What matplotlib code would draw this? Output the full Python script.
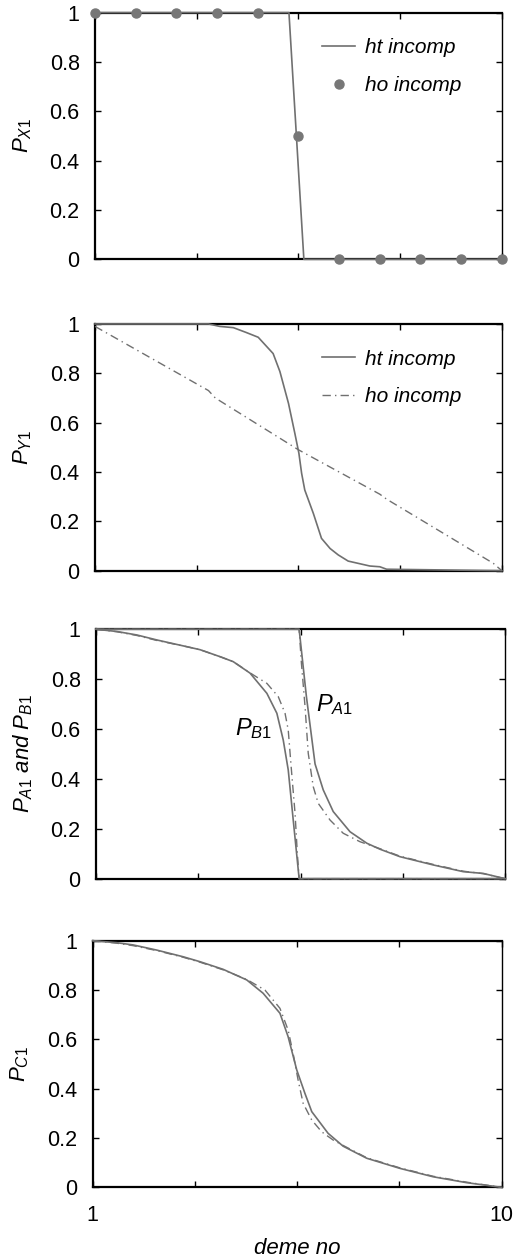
import matplotlib
matplotlib.use("Agg")
from matplotlib import pyplot as plt

plt.rcParams['font.family'] = ['Liberation Sans', 'DejaVu Sans']
plt.rcParams['mathtext.fontset'] = 'custom'
plt.rcParams['mathtext.it'] = 'Liberation Sans:italic'
plt.rcParams['mathtext.rm'] = 'Liberation Sans'

# panel 1: P_X1
x_dots = [1, 1.9, 2.8, 3.7, 4.6, 5.5, 6.4, 7.3, 8.2, 9.1, 10]
px1_ho = [1, 1, 1, 1, 1, 0.5, 0, 0, 0, 0, 0]
px1_ht_x = [1, 5.29, 5.62, 10]
px1_ht = [1, 1, 0, 0]

# panel 2: P_Y1
py1_ht_x = [1, 3.51, 3.76, 4.06, 4.35, 4.61, 4.94, 5.09, 5.28, 5.42, 5.51, 5.57,
            5.64, 5.83, 6.01, 6.20, 6.38, 6.60, 7.08, 7.30, 7.45, 10]
py1_ht = [1, 1, 0.99, 0.985, 0.965, 0.946, 0.88, 0.807, 0.678, 0.557, 0.476, 0.395,
          0.327, 0.232, 0.131, 0.09, 0.064, 0.039, 0.019, 0.016, 0.006, 0.0]
py1_ho_x = [1, 3.51, 3.66, 5.5, 7.30, 7.45, 9.81, 10]
py1_ho = [0.99, 0.73, 0.70, 0.49, 0.31, 0.29, 0.03, 0.0]

# panel 3: P_A1 and P_B1
pa_ht_x = [1, 5.47, 5.63, 5.82, 6.00, 6.22, 6.59, 6.96, 7.25, 7.69, 8.42, 9.08, 9.52, 10]
pa_ht = [1, 1, 0.73, 0.46, 0.356, 0.269, 0.188, 0.142, 0.118, 0.088, 0.055, 0.028, 0.021, 0]
pb_ht_x = [1, 1.46, 1.90, 2.34, 3.00, 3.29, 3.73, 4.02, 4.39, 4.76, 4.98, 5.12, 5.23,
           5.34, 5.47, 10]
pb_ht = [1, 0.991, 0.977, 0.957, 0.930, 0.918, 0.890, 0.870, 0.824, 0.743, 0.663, 0.556,
         0.436, 0.235, 0, 0]
pa_ho_x = [1, 5.47, 5.52, 5.60, 5.67, 5.78, 5.89, 6.15, 6.44, 6.81, 7.25, 7.69, 8.42,
           9.08, 9.52, 10]
pa_ho = [1, 1, 0.864, 0.690, 0.503, 0.369, 0.302, 0.235, 0.182, 0.148, 0.120, 0.090,
         0.057, 0.030, 0.020, 0]
pb_ho_x = [1, 1.46, 1.90, 2.34, 3.00, 3.29, 3.73, 4.02, 4.46, 4.76, 5.01, 5.16, 5.23,
           5.30, 5.38, 5.43, 5.47, 10]
pb_ho = [1, 0.99, 0.975, 0.955, 0.93, 0.918, 0.89, 0.87, 0.817, 0.783, 0.730, 0.663,
         0.596, 0.436, 0.262, 0.102, 0, 0]

# panel 4: P_C1
pc_ht_x = [1, 1.53, 1.89, 2.41, 2.99, 3.36, 3.87, 4.39, 4.75, 5.12, 5.30, 5.49, 5.67,
           5.82, 6.18, 6.51, 7.03, 7.76, 8.49, 9.23, 10]
pc_ht = [1, 0.992, 0.983, 0.962, 0.935, 0.915, 0.884, 0.841, 0.787, 0.706, 0.611, 0.476,
         0.381, 0.307, 0.219, 0.167, 0.118, 0.077, 0.043, 0.019, 0]
pc_ho_x = [1, 1.53, 1.89, 2.41, 2.99, 3.36, 3.87, 4.39, 4.79, 5.12, 5.30, 5.41, 5.52,
           5.63, 5.82, 6.04, 6.29, 6.51, 7.03, 7.76, 8.49, 9.23, 10]
pc_ho = [1, 0.99, 0.98, 0.96, 0.933, 0.913, 0.882, 0.843, 0.800, 0.726, 0.638, 0.543,
         0.435, 0.341, 0.273, 0.225, 0.192, 0.170, 0.120, 0.079, 0.045, 0.021, 0]

x_ticks = [1, 3.25, 5.5, 7.75, 10]
y_ticks = [0, 0.2, 0.4, 0.6, 0.8, 1]
y_ticklabels = ['0', '0.2', '0.4', '0.6', '0.8', '1']

GRAY = '#707070'
DASHDOT = (0, (6, 3, 1, 3))

fig = plt.figure(figsize=(5.15, 12.59), dpi=100)
rects = [
    [0.1845, 0.794, 0.790, 0.196],
    [0.1845, 0.5467, 0.790, 0.196],
    [0.1864, 0.3021, 0.7942, 0.1981],
    [0.180, 0.0569, 0.7942, 0.1959],
]
axes = [fig.add_axes(r) for r in rects]


def style(ax, ylabel, last=False):
    ax.set_xlim(1, 10)
    ax.set_ylim(0, 1)
    ax.set_xticks(x_ticks)
    ax.set_yticks(y_ticks)
    ax.set_yticklabels(y_ticklabels)
    if last:
        ax.set_xticklabels(['1', '', '', '', '10'])
    else:
        ax.set_xticklabels([])
    ax.tick_params(direction='in', top=True, right=True, length=4, width=1,
                   labelsize=15.5, pad=11)
    ax.tick_params(axis='x', pad=13)
    for side in ['left', 'bottom', 'top']:
        ax.spines[side].set_linewidth(1.6)
    ax.spines['right'].set_linewidth(1.0)
    ax.set_ylabel(ylabel, fontsize=16, style='italic')
    ax.yaxis.set_label_coords(-0.15, 0.5)


legend_kw = dict(loc='upper right', frameon=False, prop={'style': 'italic', 'size': 15},
                 handlelength=1.6, handletextpad=0.45, labelspacing=0.9,
                 borderaxespad=0, bbox_to_anchor=(0.92, 0.93))

ax = axes[0]
ax.plot(px1_ht_x, px1_ht, color=GRAY, lw=1.2, zorder=3, clip_on=False, label='ht incomp')
ax.plot(x_dots, px1_ho, 'o', color='#777777', ms=6.5, zorder=4, clip_on=False,
        label='ho incomp')
style(ax, r'$\mathit{P_{X1}}$')
ax.legend(**legend_kw)

ax = axes[1]
ax.plot(py1_ht_x, py1_ht, color=GRAY, lw=1.2, zorder=3, clip_on=False, label='ht incomp')
ax.plot(py1_ho_x, py1_ho, color=GRAY, lw=1.0, ls=DASHDOT, zorder=3, clip_on=False,
        label='ho incomp')
style(ax, r'$\mathit{P_{Y1}}$')
ax.legend(**legend_kw)

ax = axes[2]
ax.plot(pa_ht_x, pa_ht, color=GRAY, lw=1.2, zorder=3, clip_on=False)
ax.plot(pb_ht_x, pb_ht, color=GRAY, lw=1.2, zorder=3, clip_on=False)
ax.plot(pa_ho_x, pa_ho, color=GRAY, lw=1.0, ls=DASHDOT, zorder=3, clip_on=False)
ax.plot(pb_ho_x, pb_ho, color=GRAY, lw=1.0, ls=DASHDOT, zorder=3, clip_on=False)
ax.text(5.85, 0.70, r'$\mathit{P_{A1}}$', fontsize=17, va='center', ha='left')
ax.text(4.05, 0.60, r'$\mathit{P_{B1}}$', fontsize=17, va='center', ha='left')
style(ax, r'$\mathit{P_{A1}}$ and $\mathit{P_{B1}}$')

ax = axes[3]
ax.plot(pc_ht_x, pc_ht, color=GRAY, lw=1.2, zorder=3, clip_on=False)
ax.plot(pc_ho_x, pc_ho, color=GRAY, lw=1.0, ls=DASHDOT, zorder=3, clip_on=False)
style(ax, r'$\mathit{P_{C1}}$', last=True)
ax.set_xlabel('deme no', fontsize=16, style='italic')
ax.xaxis.set_label_coords(0.5, -0.205)

fig.savefig('out.png', dpi=100)
